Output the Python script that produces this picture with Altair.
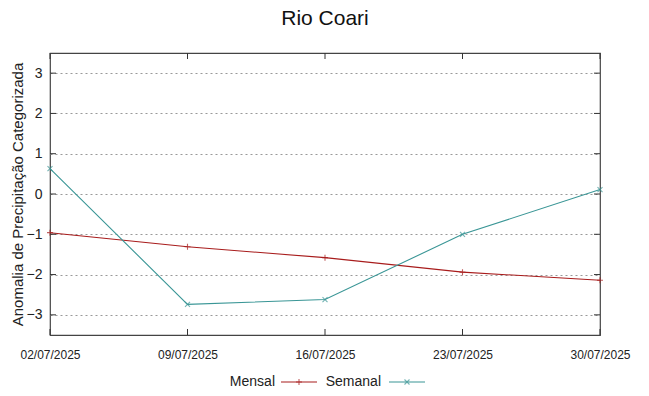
import altair as alt
import pandas as pd

dates = ["02/07/2025", "09/07/2025", "16/07/2025", "23/07/2025", "30/07/2025"]
mensal = [-0.96, -1.31, -1.58, -1.94, -2.14]
semanal = [0.63, -2.74, -2.62, -1.00, 0.11]
series_names = ["Mensal", "Semanal"]
colors = ["#a81c1c", "#3a9696"]
y_ticks = [-3, -2, -1, 0, 1, 2, 3]

df = pd.DataFrame(
    {
        "date": dates * 2,
        "value": mensal + semanal,
        "serie": [series_names[0]] * len(dates) + [series_names[1]] * len(dates),
    }
)
ticks_df = pd.DataFrame({"y": y_ticks})
xticks_df = pd.DataFrame({"date": dates})

W, H = 550, 282
plus_path = "M-1,0H1M0,-1V1"
x_path = "M-1,-1L1,1M-1,1L1,-1"
shapes = [plus_path, x_path]
shape_sizes = [36, 25]

xenc = alt.X(
    "date:O",
    sort=dates,
    scale=alt.Scale(type="point", padding=0),
    axis=alt.Axis(
        title=None, labelAngle=0, ticks=False, domain=False, labelPadding=14,
        labelFontSize=12, labelColor="#222", labelFont="Liberation Sans",
    ),
)
yscale = alt.Scale(domain=[-3.5, 3.5], nice=False, zero=False)

lines = alt.Chart(df).mark_line(strokeWidth=1.1).encode(
    x=xenc,
    y=alt.Y(
        "value:Q",
        scale=yscale,
        axis=alt.Axis(
            values=y_ticks, title="Anomalia de Precipitação Categorizada",
            titleFontSize=15, titleFontWeight="normal", titleFont="Liberation Sans",
            titleColor="#222", titlePadding=1,
            labelFontSize=14, labelFont="Liberation Sans", labelColor="#222",
            labelPadding=8, ticks=False, domain=False,
            grid=True, gridDash=[2, 3], gridColor="#999", gridWidth=1,
        ),
    ),
    color=alt.Color(
        "serie:N",
        scale=alt.Scale(domain=series_names, range=colors),
        legend=None,
    ),
)

layers = [lines]
for i, name in enumerate(series_names):
    layers.append(
        alt.Chart(df[df.serie == name]).mark_point(
            shape=shapes[i], size=shape_sizes[i], filled=False, strokeWidth=1.1, color=colors[i]
        ).encode(x=xenc, y=alt.Y("value:Q", scale=yscale))
    )

# inner ticks (gnuplot style)
layers += [
    alt.Chart(ticks_df).mark_rule(color="#333").encode(
        y=alt.Y("y:Q", scale=yscale), x=alt.value(W - 6), x2=alt.value(W)),
    alt.Chart(ticks_df).mark_rule(color="#333").encode(
        y=alt.Y("y:Q", scale=yscale), x=alt.value(0), x2=alt.value(6)),
    alt.Chart(xticks_df).mark_rule(color="#333").encode(
        x=xenc, y=alt.value(H - 6), y2=alt.value(H)),
    alt.Chart(xticks_df).mark_rule(color="#333").encode(
        x=xenc, y=alt.value(0), y2=alt.value(6)),
]

# legend below the plot (label followed by line sample with marker)
leg_df = pd.DataFrame({"serie": series_names})
leg_label_right = [225, 331]
leg_line_start = [231, 339]
leg_line_len = 36
leg_y = 329
for i, name in enumerate(series_names):
    sub = leg_df[leg_df.serie == name]
    layers.append(
        alt.Chart(sub).mark_text(
            align="right", baseline="middle", fontSize=14, font="Liberation Sans", color="#222"
        ).encode(text="serie:N", x=alt.value(leg_label_right[i]), y=alt.value(leg_y))
    )
    layers.append(
        alt.Chart(sub).mark_rule(color=colors[i], strokeWidth=1.1).encode(
            x=alt.value(leg_line_start[i]), x2=alt.value(leg_line_start[i] + leg_line_len),
            y=alt.value(leg_y))
    )
    layers.append(
        alt.Chart(sub).mark_point(
            shape=shapes[i], size=shape_sizes[i], filled=False, strokeWidth=1.1, color=colors[i]
        ).encode(x=alt.value(leg_line_start[i] + leg_line_len / 2), y=alt.value(leg_y))
    )

chart = (
    alt.layer(*layers)
    .properties(
        width=W, height=H,
        title=alt.TitleParams("Rio Coari", fontSize=21, fontWeight="normal",
                              font="Liberation Sans", color="#111", anchor="middle", offset=24),
        autosize=alt.AutoSizeParams(type="none"),
        padding={"left": 42, "top": 45, "right": 40, "bottom": 60},
        background="white",
    )
    .configure_view(stroke="#444", strokeWidth=1.2)
)

chart.save("out.html", embed_options={"renderer": "svg", "actions": False})
